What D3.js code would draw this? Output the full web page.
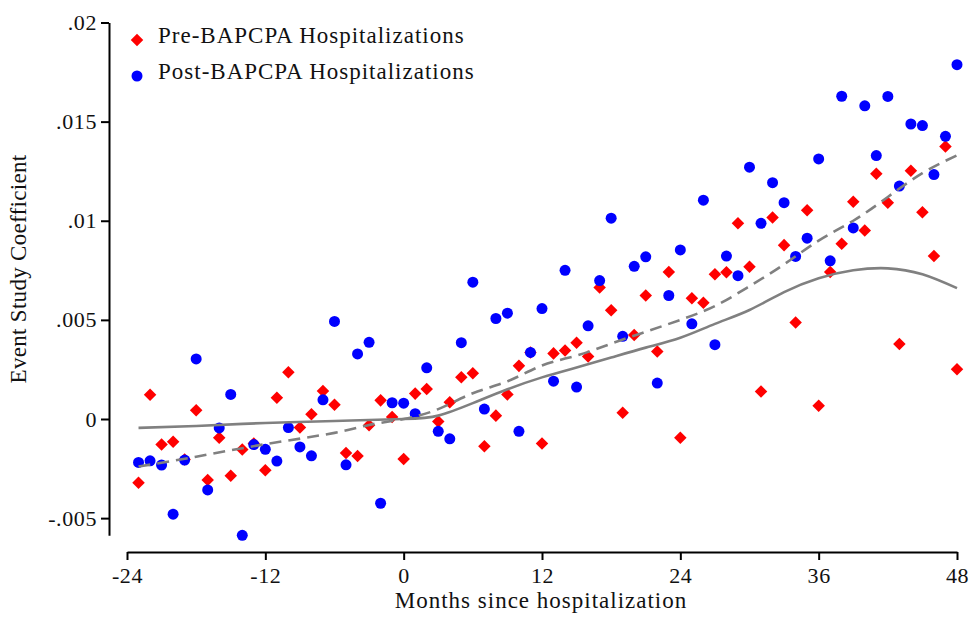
<!DOCTYPE html>
<html>
<head>
<meta charset="utf-8">
<script src="https://cdn.jsdelivr.net/npm/d3@7"></script>
<style>
  html, body { margin: 0; padding: 0; background: #fff; }
  svg { display: block; }
  text { font-family: "Liberation Serif", "DejaVu Serif", serif; fill: #111; }
</style>
</head>
<body>
<svg id="chart" width="973" height="617"></svg>
<script>
// Months relative to the hospitalization event
const months = d3.range(-23, 49);

// Event study coefficients, pre-BAPCPA hospitalizations (months -23..48)
const preValues = [
  -0.00321, 0.00122, -0.00129, -0.00115, -0.00204, 0.00044, -0.00308, -0.00095, -0.00286, -0.00154, -0.00124,
  -0.00258, 0.00107, 0.00236, -0.00043, 0.00024, 0.00141, 0.00072, -0.00171, -0.00187, -0.00032, 0.00094, 0.00010,
  -0.00202, 0.00128, 0.00151, -0.00013, 0.00084, 0.00211, 0.00231, -0.00137, 0.00017, 0.00124, 0.00268, 0.00336,
  -0.00124, 0.00331, 0.00345, 0.00385, 0.00315, 0.00663, 0.00549, 0.00032, 0.00424, 0.00623, 0.00341, 0.00741,
  -0.00095, 0.00609, 0.00586, 0.00730, 0.00740, 0.00987, 0.00768, 0.00139, 0.01016, 0.00877, 0.00487, 0.01053,
  0.00067, 0.00741, 0.00884, 0.01096, 0.00951, 0.01237, 0.01091, 0.00378, 0.01252, 0.01043, 0.00822, 0.01374,
  0.00251
];

// Event study coefficients, post-BAPCPA hospitalizations (months -23..48)
const postValues = [
  -0.00219, -0.00211, -0.00232, -0.00480, -0.00207, 0.00303, -0.00358, -0.00045, 0.00124, -0.00587, -0.00129,
  -0.00153, -0.00212, -0.00043, -0.00141, -0.00186, 0.00097, 0.00492, -0.00231, 0.00328, 0.00387, -0.00425, 0.00082,
  0.00080, 0.00027, 0.00258, -0.00062, -0.00100, 0.00385, 0.00690, 0.00050, 0.00507, 0.00534, -0.00062, 0.00336,
  0.00557, 0.00191, 0.00750, 0.00161, 0.00470, 0.00698, 0.01013, 0.00417, 0.00770, 0.00818, 0.00181, 0.00623,
  0.00853, 0.00480, 0.01104, 0.00375, 0.00822, 0.00723, 0.01270, 0.00987, 0.01192, 0.01091, 0.00820, 0.00912,
  0.01312, 0.00798, 0.01628, 0.00964, 0.01580, 0.01329, 0.01627, 0.01175, 0.01488, 0.01480, 0.01233, 0.01426,
  0.01787
];

// Smoothed fit through the pre-BAPCPA coefficients
const preFitMonths = [-23, -18, -12, -6, 0, 3, 6, 9, 12, 15, 18, 21, 24, 27, 30, 33, 36, 39, 42, 45, 48];
const preFitValues = [-0.00045, -0.00035, -0.0002, -0.0001, 0.0, 0.00017, 0.0008, 0.0015, 0.0021, 0.0026, 0.0031,
  0.0036, 0.0041, 0.0048, 0.0055, 0.0064, 0.0071, 0.0075, 0.0076, 0.0073, 0.0066];

// Smoothed fit through the post-BAPCPA coefficients
const postFitMonths = [-23, -18, -12, -6, -3, 0, 3, 6, 9, 12, 15, 18, 21, 24, 27, 30, 33, 36, 39, 42, 45, 48];
const postFitValues = [-0.0024, -0.0019, -0.00127, -0.0007, -0.0003, 0.0, 0.0005, 0.0013, 0.0019, 0.0027, 0.0032,
  0.0038, 0.0044, 0.0050, 0.0057, 0.0067, 0.0078, 0.0090, 0.0100, 0.0112, 0.0124, 0.0133];

// Axis ticks and their labels
const xTicks = [-24, -12, 0, 12, 24, 36, 48];
const yTicks = [-0.005, 0, 0.005, 0.01, 0.015, 0.02];
const yTickLabels = ["-.005", "0", ".005", ".01", ".015", ".02"];

const seriesNames = ["Pre-BAPCPA Hospitalizations", "Post-BAPCPA Hospitalizations"];

const svg = d3.select("#chart");

const x = d3.scaleLinear().domain([-24, 48]).range([127, 957]);
const yMin = d3.min(preValues.concat(postValues));
const y = d3.scaleLinear().domain([yMin, 0.02]).range([419 + (-yMin) * 19825, 22.5]);

const pre = months.map((m, i) => ({ m, v: preValues[i] }));
const post = months.map((m, i) => ({ m, v: postValues[i] }));
const preFit = preFitMonths.map((m, i) => ({ m, v: preFitValues[i] }));
const postFit = postFitMonths.map((m, i) => ({ m, v: postFitValues[i] }));

// Y axis (left, offset from plot)
const yAxis = d3.axisLeft(y)
  .tickValues(yTicks)
  .tickFormat((d, i) => yTickLabels[i])
  .tickSize(8)
  .tickSizeOuter(0);
const gy = svg.append("g").attr("transform", "translate(109,0)").call(yAxis);
gy.select(".domain").attr("stroke", "#000").attr("stroke-width", 2);
gy.selectAll(".tick line").attr("stroke", "#000").attr("stroke-width", 2);
gy.selectAll(".tick text")
  .attr("x", -12)
  .style("font-size", "22px")
  .style("letter-spacing", "0.6px")
  .style("font-family", "'Liberation Serif', serif");

// X axis (bottom, offset from plot)
const xAxis = d3.axisBottom(x)
  .tickValues(xTicks)
  .tickFormat(d => String(d))
  .tickSize(8)
  .tickSizeOuter(0);
const gx = svg.append("g").attr("transform", "translate(0,552)").call(xAxis);
gx.select(".domain").attr("stroke", "#000").attr("stroke-width", 2);
gx.selectAll(".tick line").attr("stroke", "#000").attr("stroke-width", 2);
gx.selectAll(".tick text")
  .attr("y", 15)
  .style("font-size", "22px")
  .style("letter-spacing", "0.6px")
  .style("font-family", "'Liberation Serif', serif");

// Axis titles
svg.append("text")
  .attr("x", 541).attr("y", 608)
  .attr("text-anchor", "middle")
  .style("font-size", "23px")
  .style("letter-spacing", "1px")
  .text("Months since hospitalization");

svg.append("text")
  .attr("transform", "translate(26,269) rotate(-90)")
  .attr("text-anchor", "middle")
  .style("font-size", "23px")
  .style("letter-spacing", "0.3px")
  .text("Event Study Coefficient");

// Markers
const diamond = d3.symbol().type(d3.symbolDiamond2).size(100);

svg.append("g").selectAll("path")
  .data(pre)
  .join("path")
  .attr("d", diamond)
  .attr("transform", d => `translate(${x(d.m)},${y(d.v)})`)
  .attr("fill", "#ff0000");

svg.append("g").selectAll("circle")
  .data(post)
  .join("circle")
  .attr("cx", d => x(d.m))
  .attr("cy", d => y(d.v))
  .attr("r", 5.5)
  .attr("fill", "#0000ff");

// Fitted lines
const line = d3.line().x(d => x(d.m)).y(d => y(d.v)).curve(d3.curveNatural);

svg.append("path")
  .datum(preFit)
  .attr("d", line)
  .attr("fill", "none")
  .attr("stroke", "#808080")
  .attr("stroke-width", 2.6);

svg.append("path")
  .datum(postFit)
  .attr("d", line)
  .attr("fill", "none")
  .attr("stroke", "#808080")
  .attr("stroke-width", 2.6)
  .attr("stroke-dasharray", "12,7");

// Legend
const legend = svg.append("g");
legend.append("path")
  .attr("d", diamond)
  .attr("transform", "translate(137,40)")
  .attr("fill", "#ff0000");
legend.append("circle")
  .attr("cx", 137).attr("cy", 76).attr("r", 5.5)
  .attr("fill", "#0000ff");
legend.selectAll("text.lbl")
  .data(seriesNames)
  .join("text")
  .attr("class", "lbl")
  .attr("x", 158)
  .attr("y", (d, i) => 38 + i * 36)
  .attr("dominant-baseline", "middle")
  .style("font-size", "23px")
  .style("letter-spacing", "1px")
  .text(d => d);
</script>
</body>
</html>
